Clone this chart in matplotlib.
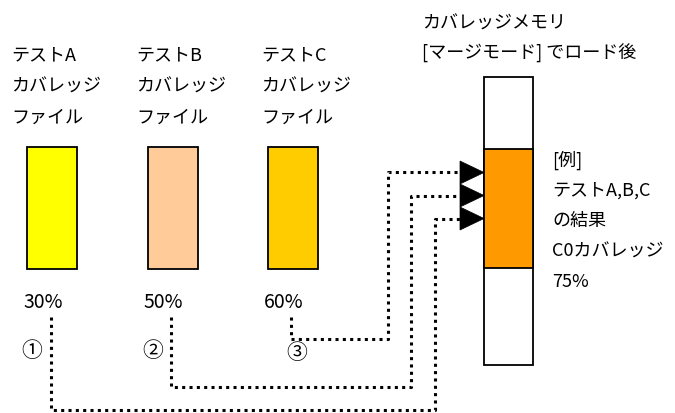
import matplotlib
matplotlib.use("Agg")
import matplotlib.pyplot as plt
from matplotlib.patches import Rectangle, Polygon

plt.rcParams['font.family'] = ['Noto Sans CJK JP', 'DejaVu Sans']

# data
tests = ["テストA", "テストB", "テストC"]
file_lines = ["カバレッジ", "ファイル"]
coverage = ["30%", "50%", "60%"]
marks = ["①", "②", "③"]
box_colors = ["#FFFF00", "#FFCC99", "#FFCC00"]
mem_title = ["カバレッジメモリ", "[マージモード] でロード後"]
mem_note = ["[例]", "テストA,B,C", "の結果", "C0カバレッジ", "75%"]
mem_color = "#FF9900"

fig = plt.figure(figsize=(6.75, 4.14), dpi=100)
ax = fig.add_axes([0, 0, 1, 1])
ax.set_xlim(0, 675)
ax.set_ylim(414, 0)
ax.axis("off")

fs = 13
dot = dict(color="black", lw=2.2, linestyle=(0, (1, 1.4)), solid_capstyle="butt",
           dash_capstyle="butt")

# 3 test files
for i in range(3):
    x0 = 27 + 120.5 * i
    tx = 11 + 125 * i
    ax.text(tx, 55, tests[i], fontsize=fs, va="center")
    ax.text(tx, 87, file_lines[0], fontsize=fs, va="center")
    ax.text(tx, 118, file_lines[1], fontsize=fs, va="center")
    ax.add_patch(Rectangle((x0, 148), 50, 122, fc=box_colors[i], ec="black", lw=1.3))
    ax.text(x0 - 4, 303, coverage[i], fontsize=14, va="center")

ax.text(21, 351, marks[0], fontsize=15, va="center")
ax.text(142, 351, marks[1], fontsize=15, va="center")
ax.text(286, 353, marks[2], fontsize=15, va="center")

# memory box
ax.text(422, 24, mem_title[0], fontsize=fs, va="center")
ax.text(422, 53, mem_title[1], fontsize=fs, va="center")
ax.add_patch(Rectangle((484, 78), 49, 288, fc="white", ec="black", lw=1.3))
ax.add_patch(Rectangle((484, 150), 49, 119, fc=mem_color, ec="black", lw=1.3))
for k, s in enumerate(mem_note):
    ax.text(552, 160 + 30.5 * k, s, fontsize=fs, va="center")

# arrow heads
for k in range(3):
    y0 = 162 + 23 * k
    ax.add_patch(Polygon([(460, y0), (460, y0 + 23), (484, y0 + 11.5)],
                         closed=True, fc="black", ec="black", lw=0.5))

# dotted connectors
ax.plot([291, 291, 388, 388, 460], [318, 340, 340, 173, 173], **dot)
ax.plot([171, 171, 411, 411, 460], [318, 388, 388, 197, 197], **dot)
ax.plot([51, 51, 435, 435, 460], [318, 411, 411, 220, 220], **dot)

fig.savefig("out.png", dpi=100)
